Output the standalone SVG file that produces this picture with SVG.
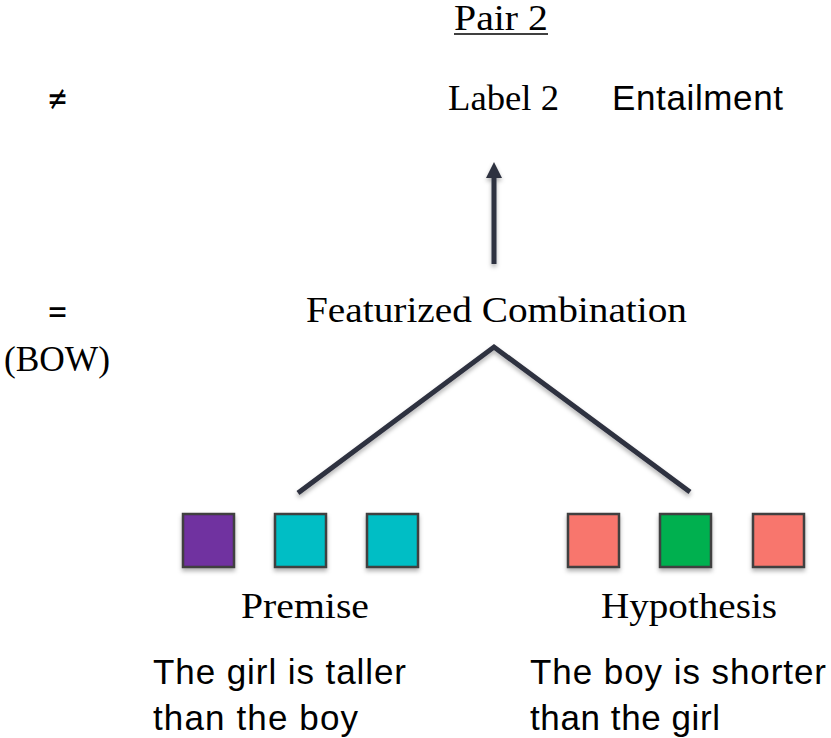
<svg xmlns="http://www.w3.org/2000/svg" width="831" height="738" viewBox="0 0 831 738">
<defs>
<style>
.serif{font-family:"Liberation Serif","DejaVu Serif",serif;font-size:35px;fill:#000}
.sans{font-family:"Liberation Sans",Arial,sans-serif;font-size:35px;fill:#000}
.sym{font-family:"DejaVu Sans","Liberation Sans",sans-serif;font-size:34px;fill:#000}
.edge{stroke:#2f3140;stroke-width:5;fill:none;stroke-linecap:butt;stroke-linejoin:miter}
.box{stroke:#3f3f3f;stroke-width:2.5}
</style>
<filter id="sh" x="-20%" y="-20%" width="140%" height="150%">
<feDropShadow dx="0" dy="3" stdDeviation="2" flood-color="#000" flood-opacity="0.3"/>
</filter>
<marker id="ah" markerWidth="3.2" markerHeight="3.2" refX="0.8" refY="1.6" orient="auto" markerUnits="strokeWidth" viewBox="0 0 3.2 3.2">
<path d="M0,0 L3.2,1.6 L0,3.2 Z" fill="#2f3140"/>
</marker>
</defs>
<rect width="831" height="738" fill="#fff"/>

<g id="title">
<text class="serif" x="454" y="30" textLength="94" lengthAdjust="spacingAndGlyphs">Pair 2</text>
<line x1="454" y1="34" x2="548" y2="34" stroke="#000" stroke-width="1.5"/>
</g>
<g id="neq"><text class="sym" x="47" y="110" textLength="21" lengthAdjust="spacingAndGlyphs">≠</text></g>
<g id="label2">
<text class="serif" x="448" y="110" textLength="111" lengthAdjust="spacingAndGlyphs">Label 2</text>
<text class="sans" x="612" y="110" textLength="171">Entailment</text>
</g>
<g id="eq">
<text class="sym" x="47" y="323" textLength="21" lengthAdjust="spacingAndGlyphs">=</text>
<text class="serif" x="4" y="371" textLength="106" lengthAdjust="spacingAndGlyphs">(BOW)</text>
</g>
<g id="featurized"><text class="serif" x="306" y="322" textLength="381" lengthAdjust="spacingAndGlyphs">Featurized Combination</text></g>

<g id="connectors" filter="url(#sh)">
<line class="edge" x1="494" y1="264" x2="494" y2="174" marker-end="url(#ah)"/>
<polyline class="edge" points="298,493 494,347 690,492"/>
</g>

<g id="premise">
<g filter="url(#sh)">
<rect class="box" x="183" y="514" width="51" height="53" fill="#7030a0"/>
<rect class="box" x="275" y="514" width="51" height="53" fill="#00bec5"/>
<rect class="box" x="367" y="514" width="51" height="53" fill="#00bec5"/>
</g>
<text class="serif" x="241" y="618" textLength="128" lengthAdjust="spacingAndGlyphs">Premise</text>
<text class="sans" x="153" y="684" textLength="253">The girl is taller</text>
<text class="sans" x="153" y="730" textLength="205">than the boy</text>
</g>

<g id="hypothesis">
<g filter="url(#sh)">
<rect class="box" x="568" y="514" width="51" height="53" fill="#f8766d"/>
<rect class="box" x="660" y="514" width="51" height="53" fill="#00b050"/>
<rect class="box" x="753" y="514" width="51" height="53" fill="#f8766d"/>
</g>
<text class="serif" x="601" y="618" textLength="176" lengthAdjust="spacingAndGlyphs">Hypothesis</text>
<text class="sans" x="530" y="684" textLength="296">The boy is shorter</text>
<text class="sans" x="530" y="730" textLength="190">than the girl</text>
</g>
</svg>
